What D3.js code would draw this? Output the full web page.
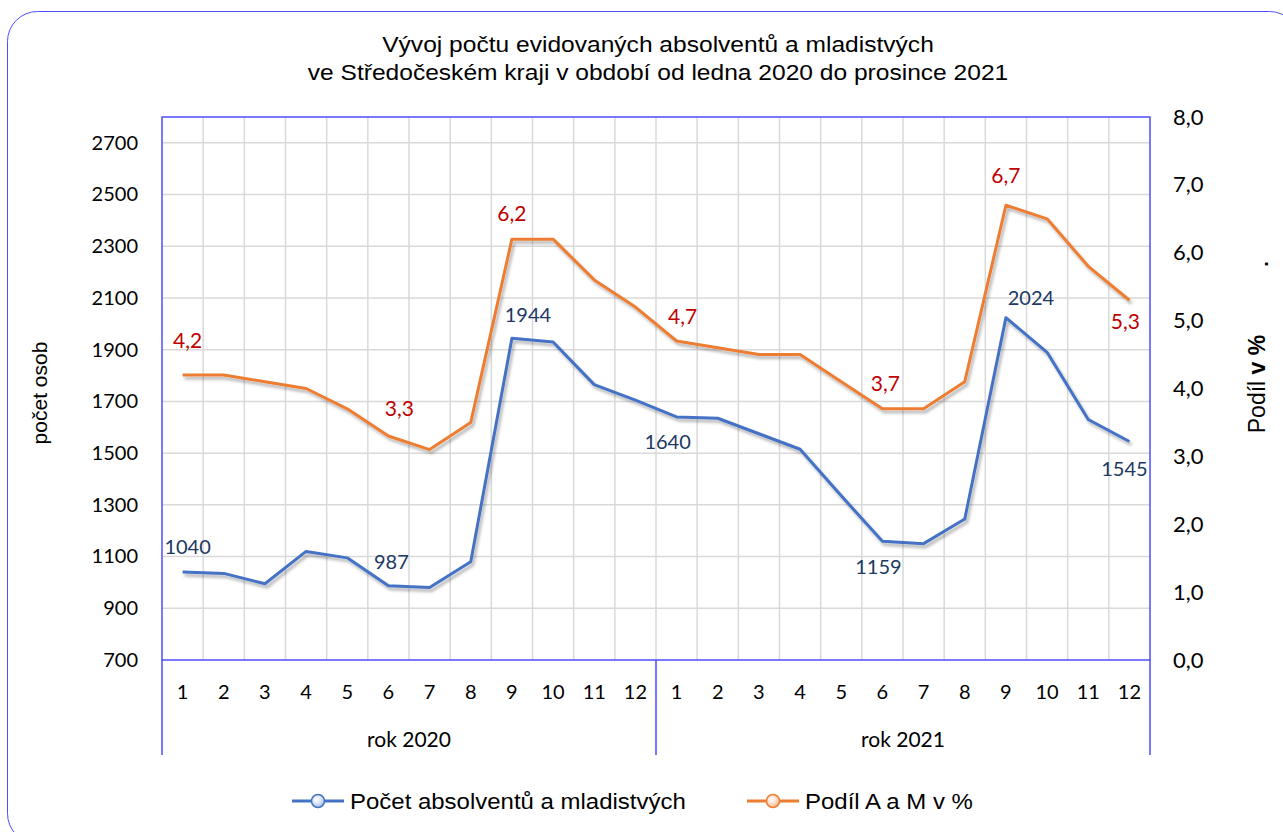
<!DOCTYPE html>
<html>
<head>
<meta charset="utf-8">
<script src="https://cdn.jsdelivr.net/npm/d3@7"></script>
<style>
  body { margin: 0; background: #fff; }
  text { font-family: Lato, sans-serif; }
</style>
</head>
<body>
<script>
var width = 1283,
    height = 832;

// data
var titleLines = ['Vývoj počtu evidovaných absolventů a mladistvých',
                  've Středočeském kraji v období od ledna 2020 do prosince 2021'];
var years = ['rok 2020', 'rok 2021'];
var months = [1, 2, 3, 4, 5, 6, 7, 8, 9, 10, 11, 12];
var pocet = [1040, 1035, 995, 1120, 1095, 987, 980, 1080, 1944, 1930, 1765, 1705,
             1640, 1635, 1575, 1515, 1335, 1159, 1150, 1245, 2024, 1890, 1630, 1545];
var podil = [4.2, 4.2, 4.1, 4.0, 3.7, 3.3, 3.1, 3.5, 6.2, 6.2, 5.6, 5.2,
             4.7, 4.6, 4.5, 4.5, 4.1, 3.7, 3.7, 4.1, 6.7, 6.5, 5.8, 5.3];
var leftTicks = [700, 900, 1100, 1300, 1500, 1700, 1900, 2100, 2300, 2500, 2700];
var rightTicks = [0, 1, 2, 3, 4, 5, 6, 7, 8];
var seriesNames = ['Počet absolventů a mladistvých', 'Podíl A a M v %'];

// which points carry a value label
var pocetLabelled = [0, 5, 8, 12, 17, 20, 23];
var podilLabelled = [0, 5, 8, 12, 17, 20, 23];

var blue = '#4472C4', orange = '#ED7D31';
var frame = '#4d4dff';
var arial = '"Liberation Sans", Arial, sans-serif';

var categories = [];
years.forEach(function(y, yi) {
  months.forEach(function(m) { categories.push(yi + '-' + m); });
});

var plot = { left: 162, right: 1150, top: 117, bottom: 660 };

var x = d3.scaleBand().domain(categories).range([plot.left, plot.right]).padding(0);
var yLeft = d3.scaleLinear().domain([700, 2800]).range([plot.bottom, plot.top]);
var yRight = d3.scaleLinear().domain([0, 8]).range([plot.bottom, plot.top]);
var cx = function(i) { return x(categories[i]) + x.bandwidth() / 2; };
var fmtPct = function(d) { return d3.format('.1f')(d).replace('.', ','); };

var svg = d3.select('body')
    .append('svg')
    .attr('width', width)
    .attr('height', height);

var defs = svg.append('defs');
var shadow = defs.append('filter').attr('id', 'shadow')
    .attr('x', '-5%').attr('y', '-5%').attr('width', '110%').attr('height', '120%');
shadow.append('feDropShadow')
    .attr('dx', 2).attr('dy', 3).attr('stdDeviation', 1.6)
    .attr('flood-color', '#000').attr('flood-opacity', 0.3);

[['gBlue', '#dfe8f8', '#9fb7e3'], ['gOrange', '#fde3d2', '#f4b183']].forEach(function(g) {
  var rg = defs.append('radialGradient').attr('id', g[0]).attr('cx', '40%').attr('cy', '35%').attr('r', '70%');
  rg.append('stop').attr('offset', '0%').attr('stop-color', '#fff');
  rg.append('stop').attr('offset', '45%').attr('stop-color', g[1]);
  rg.append('stop').attr('offset', '100%').attr('stop-color', g[2]);
});

// outer rounded frame
svg.append('rect')
    .attr('x', 7.5).attr('y', 11.5)
    .attr('width', 1292).attr('height', 832)
    .attr('rx', 30).attr('ry', 30)
    .attr('fill', 'none')
    .attr('stroke', frame)
    .attr('stroke-width', 1);

// title (slightly wide glyphs like the original)
svg.append('g')
    .attr('transform', 'translate(658,52) scale(1.117,1)')
    .append('text')
    .attr('text-anchor', 'middle')
    .style('font-family', arial)
    .style('font-size', '22px')
    .selectAll('tspan')
    .data(titleLines)
    .enter().append('tspan')
    .attr('x', 0)
    .attr('dy', function(d, i) { return i ? 28 : 0; })
    .text(function(d) { return d; });

// gridlines
var grid = svg.append('g').attr('stroke', '#d9d9d9').attr('stroke-width', 1.5);
grid.selectAll('line.h')
    .data(leftTicks.slice(1))
    .enter().append('line')
    .attr('x1', plot.left).attr('x2', plot.right)
    .attr('y1', function(d) { return yLeft(d); })
    .attr('y2', function(d) { return yLeft(d); });
grid.selectAll('line.v')
    .data(categories.slice(1))
    .enter().append('line')
    .attr('x1', function(d) { return x(d); })
    .attr('x2', function(d) { return x(d); })
    .attr('y1', plot.top).attr('y2', plot.bottom);

// plot border + category frame
var border = svg.append('g').attr('stroke', frame).attr('stroke-width', 1.5).attr('fill', 'none');
border.append('rect')
    .attr('x', plot.left).attr('y', plot.top)
    .attr('width', plot.right - plot.left).attr('height', plot.bottom - plot.top);
[plot.left, x(categories[12]), plot.right].forEach(function(px) {
  border.append('line')
      .attr('x1', px).attr('x2', px)
      .attr('y1', plot.bottom).attr('y2', 755);
});

// left axis
var leftAxis = svg.append('g')
    .attr('transform', 'translate(' + plot.left + ',0)')
    .call(d3.axisLeft(yLeft).tickValues(leftTicks).tickFormat(d3.format('d')).tickSize(0).tickPadding(24));
leftAxis.select('.domain').remove();
leftAxis.selectAll('text')
    .style('font-family', 'Lato, sans-serif')
    .style('font-size', '20px')
    .attr('fill', '#000');

// right axis
var rightAxis = svg.append('g')
    .attr('transform', 'translate(' + plot.right + ',0)')
    .call(d3.axisRight(yRight).tickValues(rightTicks).tickFormat(fmtPct).tickSize(0).tickPadding(23));
rightAxis.select('.domain').remove();
rightAxis.selectAll('text')
    .style('font-family', 'Lato, sans-serif')
    .style('font-size', '22px')
    .attr('fill', '#000');

// month labels
svg.append('g').selectAll('text')
    .data(categories)
    .enter().append('text')
    .attr('x', function(d) { return x(d) + x.bandwidth() / 2; })
    .attr('y', 692)
    .attr('dy', '0.35em')
    .attr('text-anchor', 'middle')
    .style('font-size', '20px')
    .text(function(d) { return d.split('-')[1]; });

// year labels
svg.append('g').selectAll('text')
    .data(years)
    .enter().append('text')
    .attr('x', function(d, i) { return (x(categories[i * 12]) + x(categories[i * 12 + 11]) + x.bandwidth()) / 2; })
    .attr('y', 740)
    .attr('dy', '0.35em')
    .attr('text-anchor', 'middle')
    .style('font-size', '21px')
    .text(function(d) { return d; });

// axis titles
svg.append('text')
    .attr('transform', 'translate(47,393) rotate(-90)')
    .attr('text-anchor', 'middle')
    .style('font-family', arial)
    .style('font-size', '21px')
    .text('počet osob');

var rt = svg.append('text')
    .attr('transform', 'translate(1265,384) rotate(-90)')
    .attr('text-anchor', 'middle')
    .style('font-family', arial)
    .style('font-size', '23px');
rt.append('tspan').text('Podíl ');
rt.append('tspan').style('font-weight', 'bold').text('v %');

svg.append('text')
    .attr('transform', 'translate(1268,264) rotate(-90)')
    .attr('text-anchor', 'middle')
    .style('font-family', arial)
    .style('font-size', '20px')
    .style('font-weight', 'bold')
    .text('.');

// lines
var linePocet = d3.line()
    .x(function(d, i) { return cx(i); })
    .y(function(d) { return yLeft(d); });
var linePodil = d3.line()
    .x(function(d, i) { return cx(i); })
    .y(function(d) { return yRight(d); });

svg.append('path')
    .datum(pocet)
    .attr('d', linePocet)
    .attr('fill', 'none')
    .attr('stroke', blue)
    .attr('stroke-width', 3)
    .attr('stroke-linejoin', 'round')
    .attr('filter', 'url(#shadow)');

svg.append('path')
    .datum(podil)
    .attr('d', linePodil)
    .attr('fill', 'none')
    .attr('stroke', orange)
    .attr('stroke-width', 3)
    .attr('stroke-linejoin', 'round')
    .attr('filter', 'url(#shadow)');

// value labels (offsets in px from the point)
var pocetOffset = { 0: [5, -25], 5: [3, -24], 8: [16, -23], 12: [-9, 25], 17: [-4, 26], 20: [25, -20], 23: [-5, 27] };
var podilOffset = { 0: [5, -34], 5: [11, -27], 8: [0, -26], 12: [6, -24], 17: [3, -25], 20: [0, -30], 23: [-4, 21] };

svg.append('g').selectAll('text')
    .data(pocetLabelled)
    .enter().append('text')
    .attr('x', function(i) { return cx(i) + pocetOffset[i][0]; })
    .attr('y', function(i) { return yLeft(pocet[i]) + pocetOffset[i][1]; })
    .attr('dy', '0.35em')
    .attr('text-anchor', 'middle')
    .attr('fill', '#203864')
    .style('font-size', '20px')
    .text(function(i) { return pocet[i]; });

svg.append('g').selectAll('text')
    .data(podilLabelled)
    .enter().append('text')
    .attr('x', function(i) { return cx(i) + podilOffset[i][0]; })
    .attr('y', function(i) { return yRight(podil[i]) + podilOffset[i][1]; })
    .attr('dy', '0.35em')
    .attr('text-anchor', 'middle')
    .attr('fill', '#C00000')
    .style('font-size', '21px')
    .text(function(i) { return fmtPct(podil[i]); });

// legend
var legend = svg.append('g').selectAll('g')
    .data(seriesNames)
    .enter().append('g')
    .attr('transform', function(d, i) { return 'translate(' + [292, 747][i] + ',801)'; });
legend.append('line')
    .attr('x1', 0).attr('x2', 52)
    .attr('stroke', function(d, i) { return i ? orange : blue; })
    .attr('stroke-width', 3);
legend.append('circle')
    .attr('cx', 26).attr('r', 6.5)
    .attr('fill', function(d, i) { return i ? 'url(#gOrange)' : 'url(#gBlue)'; })
    .attr('stroke', function(d, i) { return i ? orange : blue; })
    .attr('stroke-width', 1.5);
legend.append('text')
    .attr('transform', 'translate(58,0) scale(1.09,1)')
    .attr('dy', '0.35em')
    .style('font-family', arial)
    .style('font-size', '22px')
    .text(function(d) { return d; });
</script>
</body>
</html>
